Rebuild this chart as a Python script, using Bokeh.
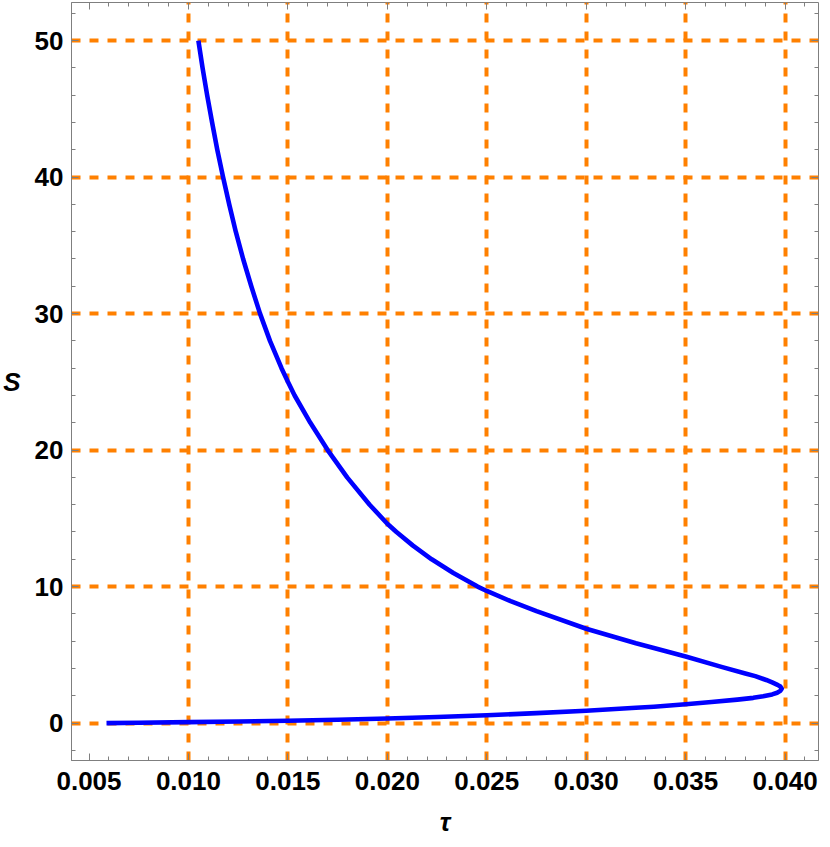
from bokeh.plotting import figure
from bokeh.models import Range1d, FixedTicker, LinearAxis, PrintfTickFormatter, ColumnDataSource
from bokeh.embed import file_html
from bokeh.resources import INLINE

# curve, ordered along the curve (lower branch, tip, upper branch)
tau = [0.00588, 0.0075, 0.0100, 0.0125, 0.0150, 0.0175, 0.0200, 0.0225, 0.0250, 0.0275,
       0.0300, 0.0325, 0.0334, 0.0350, 0.0363, 0.0376, 0.0384, 0.0389, 0.03935, 0.03960,
       0.03976, 0.03983,
       0.03976, 0.03962, 0.03935, 0.03905, 0.0385, 0.0380, 0.0368, 0.0350, 0.0334, 0.0325,
       0.0300, 0.0275, 0.0262, 0.0250, 0.02454, 0.02332, 0.02223, 0.02129, 0.02046, 0.0200,
       0.01911, 0.01798, 0.01700, 0.01613, 0.01534, 0.01500, 0.01468, 0.01410, 0.01360,
       0.01316, 0.01275, 0.01238, 0.01205, 0.01174, 0.01145, 0.01119, 0.01094, 0.01071,
       0.01050]
S = [0.00, 0.03, 0.07, 0.12, 0.17, 0.25, 0.34, 0.45, 0.57, 0.73,
     0.91, 1.12, 1.20, 1.38, 1.54, 1.72, 1.85, 1.96, 2.10, 2.22,
     2.36, 2.52,
     2.68, 2.80, 2.98, 3.16, 3.44, 3.64, 4.12, 4.88, 5.50, 5.85,
     6.91, 8.20, 8.93, 9.68, 10.0, 11.0, 12.0, 13.0, 14.0, 14.6,
     16.0, 18.0, 20.0, 22.0, 24.0, 25.0, 26.0, 28.0, 30.0,
     32.0, 34.0, 36.0, 38.0, 40.0, 42.0, 44.0, 46.0, 48.0,
     50.0]

x_major = [0.005, 0.010, 0.015, 0.020, 0.025, 0.030, 0.035, 0.040]
x_minor = [0.004, 0.006, 0.007, 0.008, 0.009, 0.011, 0.012, 0.013, 0.014, 0.016, 0.017,
           0.018, 0.019, 0.021, 0.022, 0.023, 0.024, 0.026, 0.027, 0.028, 0.029, 0.031,
           0.032, 0.033, 0.034, 0.036, 0.037, 0.038, 0.039, 0.041]
y_major = [0, 10, 20, 30, 40, 50]
y_minor = [-2, 2, 4, 6, 8, 12, 14, 16, 18, 22, 24, 26, 28, 32, 34, 36, 38, 42, 44, 46, 48, 52]
x_grid = [0.010, 0.015, 0.020, 0.025, 0.030, 0.035, 0.040]
y_grid = [0, 10, 20, 30, 40, 50]

FONT = "Liberation Sans"
FRAME = "#7f7f7f"

p = figure(width=822, height=839, output_backend="svg", toolbar_location=None,
           x_range=Range1d(0.00412, 0.04168), y_range=Range1d(-2.74, 52.79),
           min_border_left=0, min_border_right=4, min_border_top=2, min_border_bottom=0)
p.background_fill_color = "white"
p.border_fill_color = "white"
p.outline_line_color = FRAME
p.outline_line_width = 1

src = ColumnDataSource(dict(tau=tau, S=S))
p.line("tau", "S", source=src, line_color="#0000ff", line_width=4.6, line_join="round", line_cap="butt")

for g, t in ((p.xgrid[0], x_grid), (p.ygrid[0], y_grid)):
    g.ticker = FixedTicker(ticks=t)
    g.grid_line_color = "#ff8000"
    g.grid_line_width = 4
    g.grid_line_dash = "9 9"

def style(ax):
    ax.axis_line_color = FRAME
    ax.major_tick_line_color = FRAME
    ax.minor_tick_line_color = FRAME
    ax.major_tick_in = 7
    ax.major_tick_out = 0
    ax.minor_tick_in = 4
    ax.minor_tick_out = 0
    ax.major_label_text_font = FONT
    ax.major_label_text_font_style = "bold"
    ax.major_label_text_font_size = "26px"
    ax.major_label_text_color = "black"
    ax.axis_label_text_font = FONT
    ax.axis_label_text_font_style = "bold italic"
    ax.axis_label_text_font_size = "26px"
    ax.axis_label_text_color = "black"

xa = p.xaxis[0]
xa.ticker = FixedTicker(ticks=x_major, minor_ticks=x_minor)
xa.formatter = PrintfTickFormatter(format="%.3f")
style(xa)
xa.axis_label = "τ"
xa.major_label_standoff = 11
xa.axis_label_standoff = 14

ya = p.yaxis[0]
ya.ticker = FixedTicker(ticks=y_major, minor_ticks=y_minor)
ya.formatter = PrintfTickFormatter(format="%d")
style(ya)
ya.axis_label = "S"
ya.major_label_standoff = 8
ya.axis_label_standoff = 11
try:
    ya.axis_label_orientation = "horizontal"
except Exception:
    pass

# unlabelled tick marks on the top and right edges of the frame
def tick_axis(ticks, length, side):
    ax = LinearAxis(ticker=FixedTicker(ticks=[], minor_ticks=ticks))
    ax.axis_line_color = None
    ax.minor_tick_line_color = FRAME
    ax.minor_tick_in = length
    ax.minor_tick_out = 0
    ax.major_tick_in = 0
    ax.major_tick_out = 0
    ax.major_label_standoff = 0
    p.add_layout(ax, side)

tick_axis(x_minor, 4, "above")
tick_axis(x_major, 7, "above")
tick_axis(y_minor, 4, "right")
tick_axis(y_major, 7, "right")

open("out.html", "w").write(file_html(p, INLINE))
